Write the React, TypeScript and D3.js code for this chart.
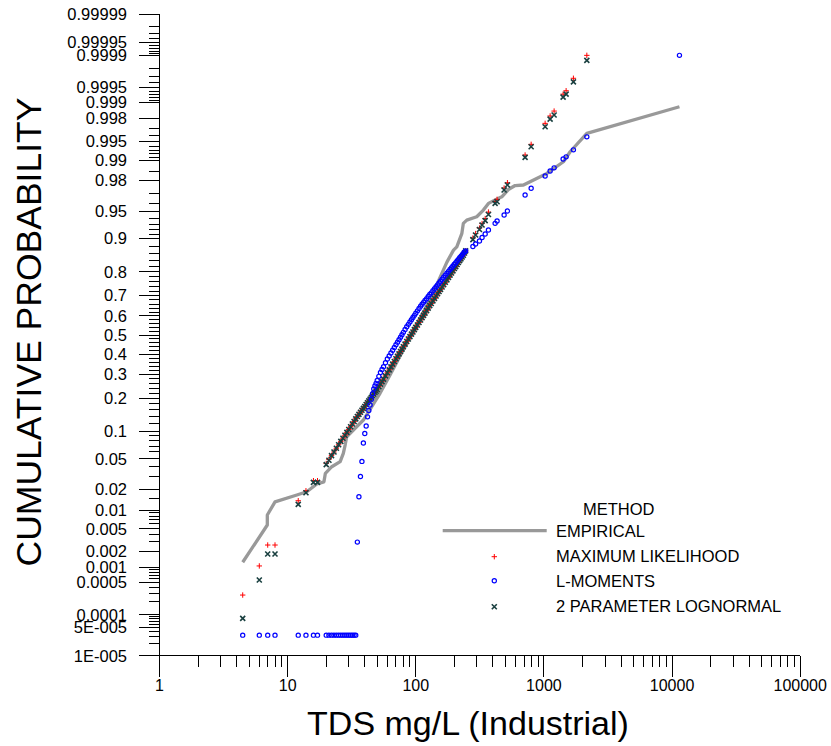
import React from 'react';
import * as d3 from 'd3';

// TDS values (mg/L) shared by the three fitted series
const tdsSample = [
  4.46, 6.01, 6.99, 7.97, 12.1, 13.9, 15.9, 17.1,
  20, 21, 22, 23, 24, 25, 26, 27, 28, 29, 30, 31, 32, 33, 34, 35, 36, 37, 38, 39,
  40, 41, 42, 43, 44, 45, 46, 47, 48, 49, 50, 51.5, 53, 54.5, 56, 58, 60, 62, 64, 66, 68, 70, 72, 74, 76, 78, 80,
  82.5, 85, 87.5, 90, 92.5, 95, 97.5, 100, 103, 106, 109, 112, 115, 118, 121.5, 125, 128.5, 132, 136, 140,
  144, 148, 152, 156, 160.5, 165, 170, 175, 180, 185, 190, 195, 200, 205, 210, 215, 220, 225, 230, 235, 240, 245,
  279, 293, 314, 329, 348, 369, 416, 431, 489, 519, 713, 795, 1022, 1118, 1201, 1412, 1490, 1699, 2162, 11420,
];

// maximum likelihood fit
const mlProb = [
  0.000273, 0.00107, 0.00262, 0.00262, 0.0138, 0.0192, 0.0264, 0.0264,
  0.0438, 0.0491, 0.0545, 0.06, 0.0661, 0.0723, 0.0786, 0.0851, 0.0914, 0.0979, 0.1047, 0.1114, 0.1184, 0.1253, 0.1326, 0.1393, 0.1459, 0.1524, 0.1587, 0.1649,
  0.1712, 0.1777, 0.184, 0.1908, 0.197, 0.2034, 0.2098, 0.216, 0.2223, 0.2282, 0.2352, 0.2463, 0.2573, 0.2681, 0.2789, 0.2937, 0.3081, 0.3218, 0.3358, 0.3494, 0.3623, 0.3763, 0.3885, 0.4013, 0.4137, 0.4261, 0.4382,
  0.4518, 0.4661, 0.4793, 0.4915, 0.5048, 0.5164, 0.5286, 0.5403, 0.5534, 0.5665, 0.5796, 0.5915, 0.6033, 0.6146, 0.6272, 0.6397, 0.6521, 0.6628, 0.6754, 0.6868,
  0.698, 0.7086, 0.7185, 0.7279, 0.7384, 0.7486, 0.7587, 0.7685, 0.7782, 0.7871, 0.7955, 0.8034, 0.8117, 0.8185, 0.8257, 0.8325, 0.8388, 0.8446, 0.8502, 0.8557, 0.8622, 0.8686,
  0.9015, 0.9114, 0.9226, 0.9309, 0.9393, 0.949, 0.9621, 0.9644, 0.9747, 0.9786, 0.99166, 0.99439, 0.99756, 0.99821, 0.99855, 0.99932, 0.99942, 0.99968, 0.9999, null,
];

// L-moments fit (values below its lower bound sit on the floor of the plot)
const lmProb = [
  0.000033, 0.000033, 0.000033, 0.000033, 0.000033, 0.000033, 0.000033, 0.000033,
  0.000033, 0.000033, 0.000033, 0.000033, 0.000033, 0.000033, 0.000033, 0.000033, 0.000033, 0.000033, 0.000033, 0.000033, 0.000033, 0.000033, 0.000033, 0.00295, 0.0158, 0.03, 0.0465, 0.0755,
  0.0954, 0.1131, 0.1383, 0.1577, 0.176, 0.197, 0.2179, 0.2363, 0.2488, 0.2603, 0.2726, 0.2914, 0.309, 0.3232, 0.3372, 0.3568, 0.3748, 0.39, 0.4054, 0.4199, 0.434, 0.4492, 0.4624, 0.4756, 0.4883, 0.5016, 0.5143,
  0.5291, 0.5439, 0.5566, 0.5686, 0.5811, 0.592, 0.6033, 0.6141, 0.6262, 0.6382, 0.6496, 0.659, 0.6681, 0.6768, 0.6858, 0.6957, 0.7049, 0.7127, 0.7225, 0.7314,
  0.7401, 0.7478, 0.7558, 0.7628, 0.771, 0.7789, 0.7868, 0.7944, 0.8015, 0.8085, 0.815, 0.8206, 0.8271, 0.8322, 0.8378, 0.8429, 0.848, 0.8523, 0.8566, 0.8611, 0.8651, 0.868,
  0.8804, 0.8869, 0.8944, 0.9026, 0.9104, 0.9187, 0.9313, 0.9352, 0.9447, 0.9504, 0.9687, 0.9745, 0.9828, 0.9854, 0.9869, 0.9904, 0.9911, 0.9931, 0.9958, 0.9999,
];

// 2 parameter lognormal
const lnProb = [
  0.0000828, 0.000562, 0.0018, 0.0018, 0.0122, 0.018, 0.0251, 0.0251,
  0.0425, 0.048, 0.0545, 0.06, 0.0661, 0.0723, 0.0786, 0.0851, 0.0914, 0.0979, 0.1047, 0.1114, 0.1184, 0.1253, 0.1326, 0.1393, 0.1459, 0.1524, 0.1587, 0.1649,
  0.1712, 0.1777, 0.184, 0.1908, 0.197, 0.2034, 0.2098, 0.216, 0.2223, 0.2282, 0.2352, 0.2463, 0.2573, 0.2681, 0.2789, 0.2937, 0.3081, 0.3218, 0.3358, 0.3494, 0.3623, 0.3763, 0.3885, 0.4013, 0.4137, 0.4261, 0.4382,
  0.4518, 0.4661, 0.4793, 0.4915, 0.5048, 0.5164, 0.5286, 0.5403, 0.5534, 0.5665, 0.5796, 0.5915, 0.6033, 0.6146, 0.6272, 0.6397, 0.6521, 0.6628, 0.6754, 0.6868,
  0.698, 0.7086, 0.7185, 0.7279, 0.7384, 0.7486, 0.7587, 0.7685, 0.7782, 0.7871, 0.7955, 0.8034, 0.8117, 0.8185, 0.8257, 0.8325, 0.8388, 0.8446, 0.8502, 0.8557, 0.8622, 0.8686,
  0.8979, 0.9082, 0.9197, 0.9282, 0.936, 0.9455, 0.96, 0.9619, 0.9731, 0.977, 0.99094, 0.99386, 0.9972, 0.99796, 0.99828, 0.99922, 0.99932, 0.99962, 0.99987, null,
];

// empirical curve vertices
const empiricalTds = [
  4.46, 6.94, 6.94, 7.97, 11.8, 14.1, 16.9, 19.2, 19.7, 22.1, 25.7, 27.2, 28.1, 28.9, 32.6, 39.0,
  52.6, 63.0, 75.4, 90.3, 108, 129, 155, 175, 197, 209, 229, 235, 250, 299, 337, 369, 416, 469,
  528, 596, 692, 1054, 1420, 1602, 2162, 11420,
];
const empiricalProb = [
  0.00126, 0.00577, 0.00835, 0.0133, 0.0167, 0.0186, 0.0238, 0.0255, 0.033, 0.04, 0.0461, 0.0579, 0.0718, 0.0881, 0.1033, 0.1293,
  0.2192, 0.2975, 0.39, 0.4894, 0.5894, 0.6791, 0.7797, 0.834, 0.8707, 0.8797, 0.9119, 0.9312, 0.9368, 0.9421, 0.9517, 0.96, 0.9637, 0.967,
  0.9735, 0.9766, 0.977, 0.9842, 0.9894, 0.9926, 0.99633, 0.9988,
];

const probTicks = [
  0.00001, 0.00005, 0.0001, 0.0005, 0.001, 0.002, 0.005, 0.01, 0.02, 0.05, 0.1, 0.2, 0.3, 0.4, 0.5,
  0.6, 0.7, 0.8, 0.9, 0.95, 0.98, 0.99, 0.995, 0.998, 0.999, 0.9995, 0.9999, 0.99995, 0.99999,
];
const probTickLabels = [
  '1E-005', '5E-005', '0.0001', '0.0005', '0.001', '0.002', '0.005', '0.01', '0.02', '0.05', '0.1', '0.2', '0.3', '0.4', '0.5',
  '0.6', '0.7', '0.8', '0.9', '0.95', '0.98', '0.99', '0.995', '0.998', '0.999', '0.9995', '0.9999', '0.99995', '0.99999',
];
const tdsTicks = [1, 10, 100, 1000, 10000, 100000];
const tdsTickLabels = ['1', '10', '100', '1000', '10000', '100000'];

const legendItems = ['EMPIRICAL', 'MAXIMUM LIKELIHOOD', 'L-MOMENTS', '2 PARAMETER LOGNORMAL'];

// inverse standard normal (Acklam)
function probit(p: number): number {
  const a = [-39.69683028665376, 220.9460984245205, -275.9285104469687, 138.357751867269, -30.66479806614716, 2.506628277459239];
  const b = [-54.47609879822406, 161.5858368580409, -155.6989798598866, 66.80131188771972, -13.28068155288572];
  const c = [-0.007784894002430293, -0.3223964580411365, -2.400758277161838, -2.549671010229528, 4.374664141464968, 2.938163982698783];
  const d = [0.007784695709041462, 0.3224671290700398, 2.445134137142996, 3.754408661907416];
  const plow = 0.02425;
  if (p < plow) {
    const q = Math.sqrt(-2 * Math.log(p));
    return (((((c[0] * q + c[1]) * q + c[2]) * q + c[3]) * q + c[4]) * q + c[5]) / ((((d[0] * q + d[1]) * q + d[2]) * q + d[3]) * q + 1);
  }
  if (p > 1 - plow) {
    const q = Math.sqrt(-2 * Math.log(1 - p));
    return -(((((c[0] * q + c[1]) * q + c[2]) * q + c[3]) * q + c[4]) * q + c[5]) / ((((d[0] * q + d[1]) * q + d[2]) * q + d[3]) * q + 1);
  }
  const q = p - 0.5;
  const r = q * q;
  return ((((((a[0] * r + a[1]) * r + a[2]) * r + a[3]) * r + a[4]) * r + a[5]) * q) /
    (((((b[0] * r + b[1]) * r + b[2]) * r + b[3]) * r + b[4]) * r + 1);
}

// minor ticks of the probability axis
const minorProbTicks: number[] = [];
for (let i = 5; i <= 45; i++) minorProbTicks.push(+(i * 0.02).toFixed(4));
for (let n = 2; n <= 5; n++) {
  for (let k = 1; k <= 9; k++) {
    const e = k * Math.pow(10, -n);
    minorProbTicks.push(+e.toFixed(8), +(1 - e).toFixed(8));
  }
}
minorProbTicks.push(0.015, 0.985);

const FONT = 'Liberation Sans, Arial, Helvetica, sans-serif';

export default function App() {
  const x = d3.scaleLog().domain([1, 100000]).range([159.5, 800.2]);
  const z = d3.scaleLinear().domain([probit(0.00001), probit(0.99999)]).range([655.8, 14.3]);
  const y = (p: number) => z(probit(p));

  const x0 = x(1);
  const yBottom = y(0.00001);
  const yTop = y(0.99999);

  const minorTds: number[] = [];
  for (let dec = 1; dec < 100000; dec *= 10) {
    for (let k = 2; k <= 9; k++) minorTds.push(k * dec);
  }

  const empLine = d3.line<number>()
    .x((_, i) => x(empiricalTds[i]))
    .y((p) => y(p));

  const pts = (probs: (number | null)[]) =>
    tdsSample.map((t, i) => ({ t, p: probs[i] })).filter((d) => d.p != null && (d.p as number) >= 0.00001 && (d.p as number) <= 0.99999);

  const plus = (cx: number, cy: number, s = 2.7) => `M${cx - s},${cy}h${2 * s}M${cx},${cy - s}v${2 * s}`;
  const cross = (cx: number, cy: number, s = 2.5) => `M${cx - s},${cy - s}L${cx + s},${cy + s}M${cx - s},${cy + s}L${cx + s},${cy - s}`;

  const legX = 494.3;
  const legTextX = 556;

  return (
    <svg width={831} height={746} style={{ position: 'absolute', left: 0, top: 0, background: '#fff' }} fontFamily={FONT}>
      {/* axes */}
      <g stroke="#000" strokeWidth={1} shapeRendering="crispEdges">
        <line x1={x0} x2={x0} y1={yTop} y2={yBottom + 21} />
        <line x1={x0 - 21} x2={x(100000)} y1={yBottom} y2={yBottom} />
        {minorProbTicks.map((p, i) => (
          <line key={'ym' + i} x1={x0 - 11} x2={x0} y1={y(p)} y2={y(p)} />
        ))}
        {probTicks.map((p, i) => (
          <line key={'yM' + i} x1={x0 - 21} x2={x0} y1={y(p)} y2={y(p)} />
        ))}
        {minorTds.map((t, i) => (
          <line key={'xm' + i} x1={x(t)} x2={x(t)} y1={yBottom} y2={yBottom + 11} />
        ))}
        {tdsTicks.map((t, i) => (
          <line key={'xM' + i} x1={x(t)} x2={x(t)} y1={yBottom} y2={yBottom + 21} />
        ))}
      </g>
      <g fontSize={16.5} textAnchor="end" fill="#000">
        {probTicks.map((p, i) => (
          <text key={'yl' + i} x={127} y={y(p)} dy="0.35em">{probTickLabels[i]}</text>
        ))}
      </g>
      <g fontSize={16} textAnchor="middle" fill="#000">
        {tdsTicks.map((t, i) => (
          <text key={'xl' + i} x={x(t)} y={691}>{tdsTickLabels[i]}</text>
        ))}
      </g>
      <text x={468} y={735} fontSize={34} textAnchor="middle">TDS mg/L (Industrial)</text>
      <text transform="translate(40.5,332) rotate(-90)" fontSize={35.5} textAnchor="middle">CUMULATIVE PROBABILITY</text>

      {/* series */}
      <path d={empLine(empiricalProb) || ''} fill="none" stroke="#999" strokeWidth={3.3} strokeLinejoin="round" />
      <g stroke="#ff0000" strokeWidth={1} fill="none">
        {pts(mlProb).map((d, i) => (
          <path key={'ml' + i} d={plus(x(d.t), y(d.p as number))} />
        ))}
      </g>
      <g stroke="#1a4040" strokeWidth={1.6} fill="none">
        {pts(lnProb).map((d, i) => (
          <path key={'ln' + i} d={cross(x(d.t), y(d.p as number))} />
        ))}
      </g>
      <g stroke="#0000ff" strokeWidth={1.2} fill="none">
        {pts(lmProb).map((d, i) => (
          <circle key={'lm' + i} cx={x(d.t)} cy={y(d.p as number)} r={2.1} />
        ))}
      </g>

      {/* legend */}
      <g fontSize={16.5} fill="#000">
        <text x={583} y={515}>METHOD</text>
        {legendItems.map((name, i) => (
          <text key={name} x={legTextX} y={536.7 + i * 25}>{name}</text>
        ))}
      </g>
      <line x1={442.7} x2={546.7} y1={530.7} y2={530.7} stroke="#999" strokeWidth={3.3} />
      <path d={plus(legX, 556.7)} stroke="#ff0000" strokeWidth={1} />
      <circle cx={legX} cy={580.7} r={2.1} stroke="#0000ff" strokeWidth={1.2} fill="none" />
      <path d={cross(legX, 606.7)} stroke="#1a4040" strokeWidth={1.6} />
    </svg>
  );
}
